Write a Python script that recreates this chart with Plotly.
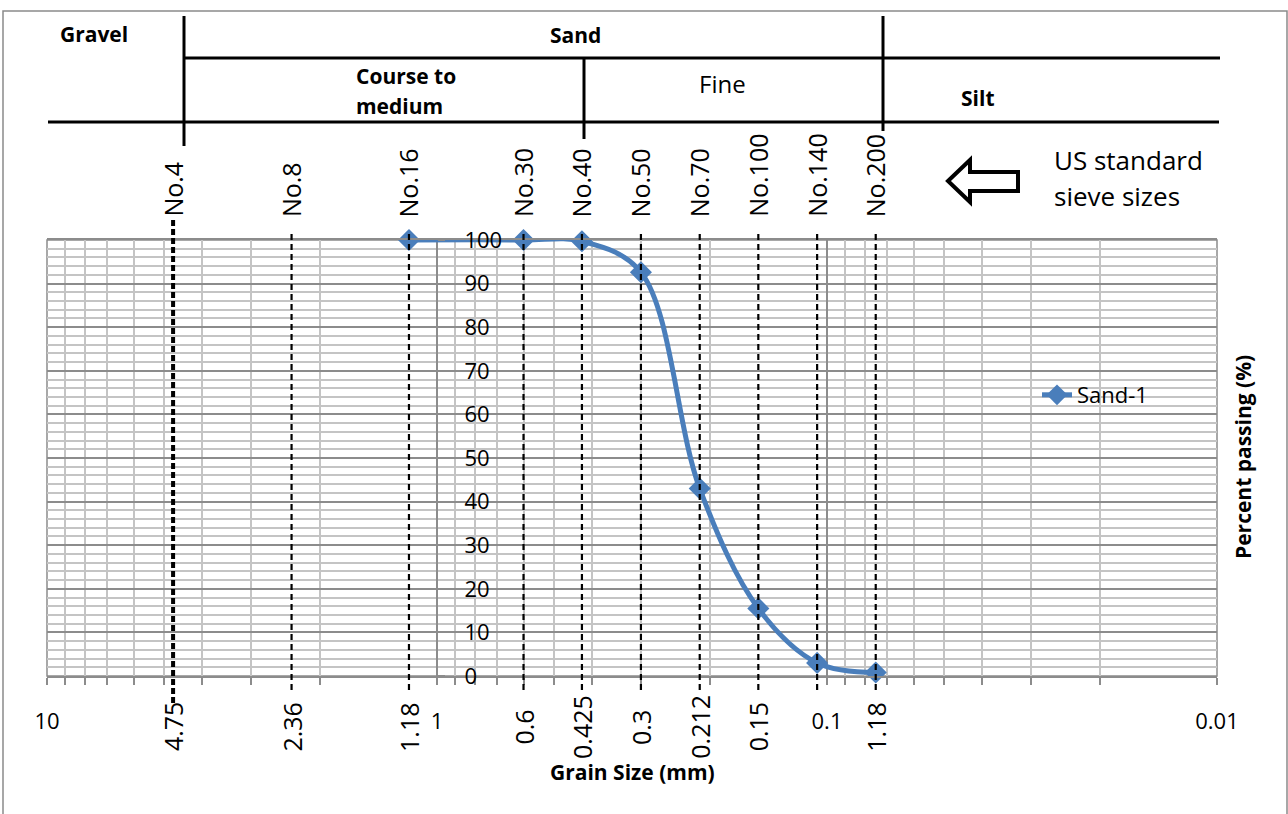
import math
import plotly.graph_objects as go

# ---------------- data ----------------
sieve_names = ["No.4", "No.8", "No.16", "No.30", "No.40", "No.50", "No.70", "No.100", "No.140", "No.200"]
sieve_sizes = [4.75, 2.36, 1.18, 0.6, 0.425, 0.3, 0.212, 0.15, 0.106, 0.075]
size_labels = ["4.75", "2.36", "1.18", "0.6", "0.425", "0.3", "0.212", "0.15", "", "1.18"]

sand_size = [1.18, 0.6, 0.425, 0.3, 0.212, 0.15, 0.106, 0.075]
sand_pass = [100, 100, 99.7, 92.6, 43.0, 15.5, 3.0, 0.8]

x_tick_vals = [10, 1, 0.1, 0.01]
x_tick_text = ["10", "1", "0.1", "0.01"]
y_tick_vals = [0, 10, 20, 30, 40, 50, 60, 70, 80, 90, 100]

# ---------------- layout geometry (pixels) ----------------
W, H = 1288, 814
L, R, T, B = 47, 1217, 240, 676
PW, PH = R - L, B - T


def px(x):
    return (x - L) / PW


def py(y):
    return (B - y) / PH


FONT = "Open Sans"
BLUE = "#4A7EBB"
GRID_MAJ = "#8c8c8c"
GRID_MIN = "#c4c4c4"

fig = go.Figure()
fig.add_trace(go.Scatter(
    x=sand_size, y=sand_pass, name="Sand-1", mode="lines+markers",
    line=dict(color=BLUE, width=5, shape="spline", smoothing=1.0),
    marker=dict(symbol="diamond", size=17, color=BLUE, line=dict(color=BLUE, width=0)),
    cliponaxis=False,
))

minor_x = [k * 10 ** e for e in (-2, -1, 0) for k in range(2, 10)]

fig.update_layout(
    width=W, height=H,
    margin=dict(l=L, r=W - R, t=T, b=H - B),
    paper_bgcolor="white", plot_bgcolor="white",
    font=dict(family=FONT, color="black", size=22),
    showlegend=True,
    legend=dict(x=px(1037), y=py(395), xanchor="left", yanchor="middle",
                bgcolor="rgba(0,0,0,0)", font=dict(size=22, family=FONT)),
    xaxis=dict(
        type="log", range=[1, -2],
        tickmode="array", tickvals=x_tick_vals, ticktext=x_tick_text,
        showgrid=True, gridcolor=GRID_MAJ, gridwidth=1.5,
        ticks="outside", ticklen=7, tickcolor=GRID_MAJ, tickwidth=1.5,
        ticklabelstandoff=18,
        showline=True, linecolor=GRID_MAJ, linewidth=1.5, mirror=True,
        zeroline=False,
        tickfont=dict(size=22, family=FONT),
        minor=dict(tickmode="array", tickvals=minor_x, showgrid=True, gridcolor=GRID_MIN,
                   gridwidth=1.5, ticks="outside", ticklen=7, tickcolor=GRID_MAJ, tickwidth=1.5),
    ),
    yaxis=dict(
        range=[0, 100], tickmode="array", tickvals=y_tick_vals,
        showgrid=True, gridcolor=GRID_MAJ, gridwidth=1.5,
        anchor="free", position=px(437), side="right",
        ticks="outside", ticklen=7, tickcolor=GRID_MAJ, tickwidth=1.5,
        ticklabelstandoff=15,
        showline=False, zeroline=False,
        tickfont=dict(size=22, family=FONT),
        minor=dict(dtick=2, showgrid=True, gridcolor=GRID_MIN, gridwidth=1.5),
    ),
)

shapes = []
# plot border
shapes.append(dict(type="rect", xref="paper", yref="paper", x0=0, x1=1, y0=0, y1=1,
                   line=dict(color=GRID_MAJ, width=1.5), layer="below"))
# outer chart border
shapes.append(dict(type="rect", xref="paper", yref="paper", x0=px(3), x1=px(1287), y0=py(830), y1=py(11),
                   line=dict(color="#8a8a8a", width=1.5), layer="below"))

# sieve dashed lines (data positions)
for i, s in enumerate(sieve_sizes):
    if i == 0:
        shapes.append(dict(type="line", xref="x", yref="paper", x0=s, x1=s, y0=py(703), y1=py(218),
                           line=dict(color="black", width=4, dash="6px,3px"), layer="above"))
    else:
        shapes.append(dict(type="line", xref="x", yref="paper", x0=s, x1=s, y0=py(690), y1=py(231),
                           line=dict(color="black", width=2.2, dash="6px,4px"), layer="above"))

# header table lines (pixel diagram)
hdr = [
    (184, 16, 184, 146),
    (184, 58, 1220, 58),
    (48, 122, 1219, 122),
    (584, 58, 584, 139),
    (883, 16, 883, 131),
]
for x0, y0, x1, y1 in hdr:
    shapes.append(dict(type="line", xref="paper", yref="paper", x0=px(x0), x1=px(x1), y0=py(y0), y1=py(y1),
                       line=dict(color="black", width=3)))

# hollow arrow
pts = [(948, 181), (970, 160), (970, 172), (1018, 172), (1018, 191), (970, 191), (970, 202)]
path = "M " + " L ".join(f"{px(a):.5f},{py(b):.5f}" for a, b in pts) + " Z"
shapes.append(dict(type="path", xref="paper", yref="paper", path=path,
                   line=dict(color="black", width=4), fillcolor="white"))

fig.update_layout(shapes=shapes)

ann = []


def text(x, y, t, size=21, bold=False, xanchor="center", yanchor="middle", angle=0, xref="paper"):
    ann.append(dict(x=x, y=y, xref=xref, yref="paper", text=("<b>%s</b>" % t) if bold else t,
                    showarrow=False, xanchor=xanchor, yanchor=yanchor, textangle=angle,
                    font=dict(size=size, family=FONT, color="black")))


# header texts
text(px(94), py(34), "Gravel", bold=True)
text(px(575), py(35), "Sand", bold=True)
text(px(354), py(76), "Course to", bold=True, xanchor="left")
text(px(354), py(106), "medium", bold=True, xanchor="left")
text(px(723), py(84), "Fine", size=24)
text(px(978), py(98), "Silt", bold=True)
text(px(1052), py(160), "US standard", size=26, xanchor="left")
text(px(1052), py(196), "sieve sizes", size=26, xanchor="left")

# sieve numbers (rotated) and sizes (rotated, below axis)
for name, s, lab in zip(sieve_names, sieve_sizes, size_labels):
    text(math.log10(s), py(219), name, size=25, angle=-90, yanchor="bottom", xref="x")
    if lab:
        text(math.log10(s), py(727), lab, size=25, angle=-90, xref="x")

# axis titles
text(px(632), py(772), "Grain Size (mm)", size=21, bold=True)
text(px(1243), py(457), "Percent passing (%)", size=21, bold=True, angle=-90)

fig.update_layout(annotations=ann)

fig.write_html("out.html")
